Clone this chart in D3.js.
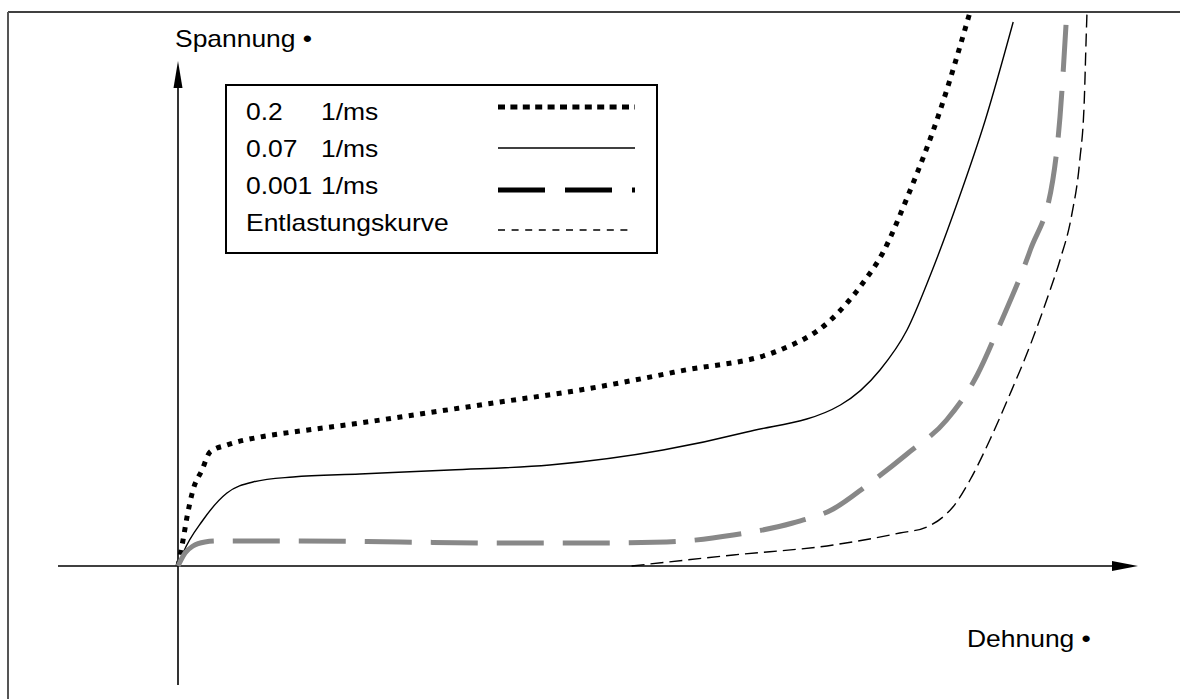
<!DOCTYPE html>
<html>
  <head>
    <meta charset="utf-8">
    <title>Spannung-Dehnung</title>
    <style media="screen">
    body{margin:0;background:#fff}
    svg{display:block}
    text{font-family:"Liberation Sans",Arial,sans-serif;fill:#000}
    </style>
  </head>
  <body>
    <svg width="1180" height="699"></svg>
    <script src="https://d3js.org/d3.v7.min.js"></script>
    <script>

    // strain (x) and stress (y), arbitrary units
    var fastX = [0, 0.56, 1, 1.67, 2.67, 3.56, 5.44, 9.11, 12.78, 19.44, 26.9, 35.8, 44.7, 55.8, 66.9, 72.4, 76.1, 78.3, 81, 84.7, 88];
    var fastY = [0, 5.2, 9.8, 15.2, 19.2, 22.8, 24.2, 25.8, 26.8, 28.4, 30.4, 32.8, 35.2, 39, 43.2, 49, 56.6, 62.6, 73.6, 91.2, 110.8];

    var midX = [0, 0.56, 2.78, 5.44, 8.33, 12.78, 20.2, 30.2, 41.3, 53.9, 63.2, 73.6, 78, 81, 83.6, 86.7, 89.7, 92.8];
    var midY = [0, 2.6, 9.2, 14.6, 16.8, 17.8, 18.4, 19.2, 20.2, 23.2, 26.8, 32.2, 39.2, 47.2, 58.2, 73.2, 89.2, 108.8];

    var slowX = [0, 0.78, 1.67, 3, 4.33, 13.6, 24.7, 35.8, 46.9, 54.3, 61.7, 68.3, 72.8, 76.6, 81, 85.4, 88.8, 91.3, 94.7, 97.2, 98, 98.7];
    var slowY = [0, 2.6, 4, 4.8, 5, 5, 4.8, 4.6, 4.6, 4.8, 6.2, 8.6, 11.4, 16.2, 22.4, 29.2, 38.2, 48.2, 63.2, 77.2, 89.8, 109.2];

    var unloadX = [50.4, 61.7, 72.8, 80.2, 83.2, 85, 86.1, 88, 90.2, 92.4, 94.7, 96.9, 98, 99.3, 100.2, 100.7, 100.9, 101];
    var unloadY = [0, 2.2, 4.2, 6.6, 7.8, 9.8, 11.8, 17.2, 25.2, 34.2, 44.2, 55.2, 61.2, 70.2, 81.2, 93.2, 105.2, 110.8];

    var legendLabels = ["0.2", "0.07", "0.001", "Entlastungskurve"];
    var legendUnits = ["1/ms", "1/ms", "1/ms", ""];

    var svg = d3.select("svg");

    // set the ranges
    var _x = d3.scaleLinear().domain([0, 100]).range([178, 1078]);
    var _y = d3.scaleLinear().domain([0, 100]).range([566, 66]);

    function pts(xs, ys) { return xs.map(function(v, i) { return [v, ys[i]]; }); }

    var line = d3.line().curve(d3.curveMonotoneX)
      .x(function(d) { return _x(d[0]); })
      .y(function(d) { return _y(d[1]); });

    var series = [
      {data: pts(fastX, fastY), stroke: "#000", width: 5, dash: "5 6.5"},
      {data: pts(midX, midY), stroke: "#000", width: 1.4, dash: null},
      {data: pts(slowX, slowY), stroke: "#888", width: 5, dash: "47 19"},
      {data: pts(unloadX, unloadY), stroke: "#000", width: 1.4, dash: "13 6"}
    ];

    // frame (top + left edge only)
    svg.append("line").attr("x1", 8).attr("x2", 1180).attr("y1", 12).attr("y2", 12)
      .attr("stroke", "#000").attr("stroke-width", 1.6);
    svg.append("line").attr("x1", 8).attr("x2", 8).attr("y1", 12).attr("y2", 699)
      .attr("stroke", "#555").attr("stroke-width", 2);

    svg.append("defs").append("clipPath").attr("id", "clip")
      .append("rect").attr("x", 9).attr("y", 13).attr("width", 1171).attr("height", 686);

    // axes with arrows
    var ax = svg.append("g");
    ax.append("line").attr("x1", 58).attr("x2", 1120).attr("y1", _y(0)).attr("y2", _y(0))
      .attr("stroke", "#000").attr("stroke-width", 1.6);
    ax.append("path").attr("d", d3.line()([[1112, _y(0) - 5], [1138, _y(0)], [1112, _y(0) + 5]]))
      .attr("fill", "#000");
    ax.append("line").attr("x1", _x(0)).attr("x2", _x(0)).attr("y1", 685).attr("y2", 80)
      .attr("stroke", "#000").attr("stroke-width", 1.6);
    ax.append("path").attr("d", d3.line()([[_x(0) - 4.5, 88], [_x(0), 61], [_x(0) + 4.5, 88]]))
      .attr("fill", "#000");

    // curves
    svg.append("g").attr("clip-path", "url(#clip)").selectAll("path")
      .data(series).enter().append("path")
      .attr("d", function(d) { return line(d.data); })
      .attr("fill", "none")
      .attr("stroke", function(d) { return d.stroke; })
      .attr("stroke-width", function(d) { return d.width; })
      .attr("stroke-dasharray", function(d) { return d.dash; });

    // axis titles
    function label(x, y, s) {
      svg.append("text").attr("transform", "translate(" + x + "," + y + ") scale(1.15,1)")
        .attr("font-size", 23).text(s);
    }
    label(175, 47, "Spannung \u2022");
    label(967, 647, "Dehnung \u2022");

    // legend
    var lg = svg.append("g");
    lg.append("rect").attr("x", 226).attr("y", 85).attr("width", 431).attr("height", 168)
      .attr("fill", "#fff").attr("stroke", "#000").attr("stroke-width", 2);
    var rowY = [120, 157, 194, 231];
    var lineY = [107, 148, 190, 230];
    var legStyle = [
      {stroke: "#000", width: 5, dash: "7 5.4", x2: 635},
      {stroke: "#000", width: 1.4, dash: null, x2: 635},
      {stroke: "#000", width: 5, dash: "47 20", x2: 635},
      {stroke: "#000", width: 1.4, dash: "7 6.6", x2: 632}
    ];
    legendLabels.forEach(function(s, i) {
      label(246, rowY[i], s);
      if (legendUnits[i]) label(321, rowY[i], legendUnits[i]);
      lg.append("line").attr("x1", 498).attr("x2", legStyle[i].x2)
        .attr("y1", lineY[i]).attr("y2", lineY[i])
        .attr("stroke", legStyle[i].stroke).attr("stroke-width", legStyle[i].width)
        .attr("stroke-dasharray", legStyle[i].dash);
    });

    </script>
  </body>
</html>
